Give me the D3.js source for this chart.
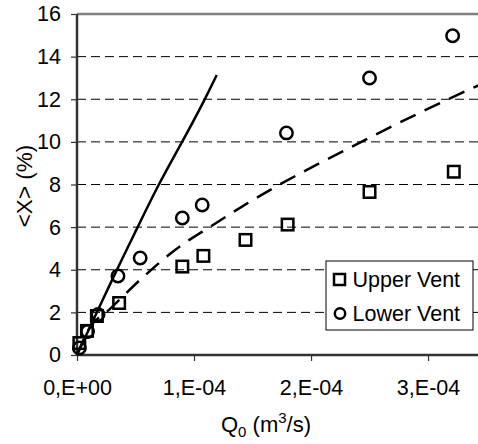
<!DOCTYPE html>
<html>
<head>
<meta charset="utf-8">
<script src="https://cdn.jsdelivr.net/npm/d3@7"></script>
<style>
  body { margin: 0; background: #fff; }
  svg { display: block; font-family: "Liberation Sans", Arial, sans-serif; }
</style>
</head>
<body>
<svg id="chart" width="478" height="444"></svg>
<script>
// measured data, Q in m3/s, X in %
const qUpper = [0.02e-4, 0.085e-4, 0.17e-4, 0.36e-4, 0.90e-4, 1.08e-4, 1.44e-4, 1.80e-4, 2.50e-4, 3.22e-4];
const xUpper = [0.56, 1.13, 1.83, 2.44, 4.15, 4.65, 5.4, 6.12, 7.65, 8.6];
const qLower = [0.02e-4, 0.09e-4, 0.18e-4, 0.35e-4, 0.54e-4, 0.90e-4, 1.07e-4, 1.79e-4, 2.50e-4, 3.21e-4];
const xLower = [0.33, 1.1, 1.9, 3.71, 4.55, 6.43, 7.04, 10.42, 13.0, 14.98];

// model curves
const qSolid = [0, 0.339e-4, 0.519e-4, 0.695e-4, 0.900e-4, 1.094e-4, 1.194e-4];
const xSolid = [0, 4, 6, 8, 10, 12, 13.14];
const qDashed = [0, 0.1e-4, 0.28e-4, 0.564e-4, 0.838e-4, 1.162e-4, 1.46e-4, 2.48e-4, 3.385e-4, 3.45e-4];
const xDashed = [0, 1.2, 2.15, 3.65, 4.93, 6.1, 7.13, 10.14, 12.54, 12.7];

const xTicks = [0, 1e-4, 2e-4, 3e-4];
const xTickLabels = ["0,E+00", "1,E-04", "2,E-04", "3,E-04"];
const yTicks = [0, 2, 4, 6, 8, 10, 12, 14, 16];
const seriesNames = ["Upper Vent", "Lower Vent"];

const svg = d3.select("#chart");
const plotL = 77, plotR = 480, plotT = 14, plotB = 355;
const fontSize = "21.5px";

const x = d3.scaleLinear().domain([0, 3.444e-4]).range([plotL, plotR]);
const y = d3.scaleLinear().domain([0, 16]).range([plotB, plotT]);

// dashed gridlines
svg.append("g")
  .selectAll("line")
  .data(yTicks.filter(d => d > 0 && d < 16))
  .enter().append("line")
  .attr("x1", plotL).attr("x2", plotR)
  .attr("y1", d => y(d)).attr("y2", d => y(d))
  .attr("stroke", "#000")
  .attr("stroke-width", 1)
  .attr("stroke-dasharray", "9,5");

// top border
svg.append("line")
  .attr("x1", plotL).attr("x2", plotR)
  .attr("y1", y(16)).attr("y2", y(16))
  .attr("stroke", "#808080").attr("stroke-width", 2.5);

// axes
const yAxis = svg.append("g")
  .attr("transform", `translate(${plotL},0)`)
  .call(d3.axisLeft(y).tickValues(yTicks).tickSize(6).tickPadding(10));
const xAxis = svg.append("g")
  .attr("transform", `translate(0,${plotB})`)
  .call(d3.axisBottom(x).tickValues(xTicks).tickFormat((d, i) => xTickLabels[i]).tickSize(6).tickPadding(19));

[yAxis, xAxis].forEach(ax => {
  ax.select(".domain").attr("stroke", "#333").attr("stroke-width", 2.5);
  ax.selectAll(".tick line").attr("stroke", "#333").attr("stroke-width", 1.2);
  ax.selectAll("text").attr("fill", "#000").style("font-size", fontSize)
    .style("font-family", "'Liberation Sans', Arial, sans-serif");
});
// left/bottom domain without the outer tick ends
yAxis.select(".domain").attr("d", `M0,${plotT}V${plotB}`);
xAxis.select(".domain").attr("d", `M${plotL},0H${plotR}`);

// clip for lines
svg.append("clipPath").attr("id", "plot")
  .append("rect").attr("x", plotL).attr("y", plotT).attr("width", plotR - plotL).attr("height", plotB - plotT);

svg.append("path")
  .datum(d3.zip(qSolid, xSolid))
  .attr("clip-path", "url(#plot)")
  .attr("d", d3.line().x(d => x(d[0])).y(d => y(d[1])).curve(d3.curveBasis))
  .attr("fill", "none")
  .attr("stroke", "#000")
  .attr("stroke-width", 2.5);

svg.append("path")
  .datum(d3.zip(qDashed, xDashed))
  .attr("clip-path", "url(#plot)")
  .attr("d", d3.line().x(d => x(d[0])).y(d => y(d[1])).curve(d3.curveMonotoneX))
  .attr("fill", "none")
  .attr("stroke", "#000")
  .attr("stroke-width", 2.5)
  .attr("stroke-dasharray", "17,10");

// markers
const sq = 11.5;
svg.append("g")
  .selectAll("rect")
  .data(d3.zip(qUpper, xUpper))
  .enter().append("rect")
  .attr("x", d => x(d[0]) - sq / 2)
  .attr("y", d => y(d[1]) - sq / 2)
  .attr("width", sq).attr("height", sq)
  .attr("fill", "none").attr("stroke", "#000").attr("stroke-width", 2.5);

svg.append("g")
  .selectAll("circle")
  .data(d3.zip(qLower, xLower))
  .enter().append("circle")
  .attr("cx", d => x(d[0]))
  .attr("cy", d => y(d[1]))
  .attr("r", 6.2)
  .attr("fill", "none").attr("stroke", "#000").attr("stroke-width", 2.5);

// axis titles
svg.append("text")
  .attr("transform", "translate(32,186) rotate(-90)")
  .attr("text-anchor", "middle")
  .style("font-size", "22.5px")
  .text("<X> (%)");

const xt = svg.append("text")
  .attr("x", 266).attr("y", 432)
  .attr("text-anchor", "middle")
  .style("font-size", "22px");
xt.append("tspan").text("Q");
xt.append("tspan").attr("dy", 5).style("font-size", "15px").text("0");
xt.append("tspan").attr("dy", -5).text(" (m");
xt.append("tspan").attr("dy", -9).style("font-size", "15px").text("3");
xt.append("tspan").attr("dy", 9).text("/s)");

// legend
const lg = svg.append("g");
lg.append("rect")
  .attr("x", 326).attr("y", 261).attr("width", 147).attr("height", 69)
  .attr("fill", "#fff").attr("stroke", "#000").attr("stroke-width", 1);
lg.append("rect")
  .attr("x", 339.5 - 5.5).attr("y", 279.5 - 5.5).attr("width", 11).attr("height", 11)
  .attr("fill", "none").attr("stroke", "#000").attr("stroke-width", 2.5);
lg.append("circle")
  .attr("cx", 340).attr("cy", 313.5).attr("r", 5.2)
  .attr("fill", "none").attr("stroke", "#000").attr("stroke-width", 2.5);
lg.selectAll("text")
  .data(seriesNames)
  .enter().append("text")
  .attr("x", 352.5)
  .attr("y", (d, i) => 286.5 + i * 34)
  .style("font-size", fontSize)
  .text(d => d);
</script>
</body>
</html>
